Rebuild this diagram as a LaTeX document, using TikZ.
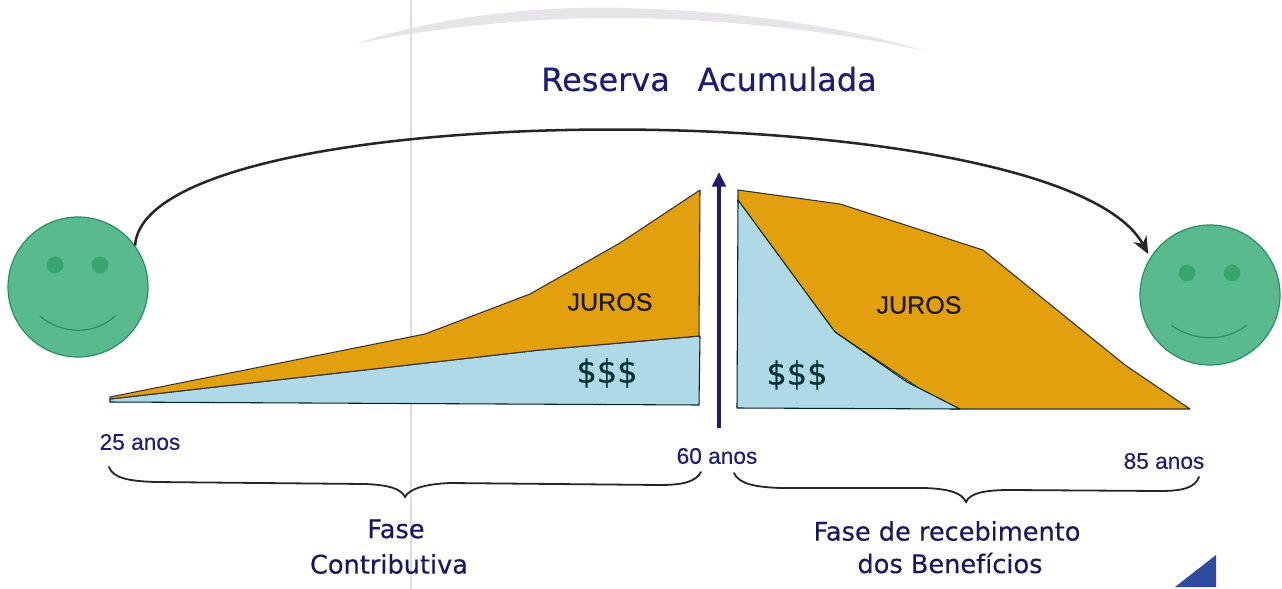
\documentclass[tikz,border=0pt]{standalone}
\usepackage{fontspec}
\setmainfont{Liberation Sans}[FakeBold=0.25]
\newfontfamily\verd{DejaVu Sans}[FakeBold=0.35]
\usetikzlibrary{arrows.meta}
\definecolor{navy}{HTML}{1C1C72}
\definecolor{face}{HTML}{58BA8E}
\definecolor{faceedge}{HTML}{2C8F60}
\definecolor{eyec}{HTML}{38A46E}
\definecolor{gold}{HTML}{E2A00F}
\definecolor{sky}{HTML}{AFD9E6}
\definecolor{paleline}{HTML}{D5DBF2}
\definecolor{swoosh}{HTML}{E6E4E8}
\definecolor{corner}{HTML}{2F4BA0}
\tikzset{
  x=0.75pt,y=-0.75pt,
  smile/.style={circle,draw=faceedge,fill=face,line width=0.9pt,minimum size=105pt,inner sep=0pt},
  eye/.style={circle,fill=eyec,minimum size=12.5pt,inner sep=0pt},
  mouth/.style={draw=faceedge,line width=0.9pt},
  juros/.style={draw=black!80,fill=gold,line width=0.8pt,line join=round},
  money/.style={draw=black!70!teal,fill=sky,line width=0.8pt,line join=round},
  curly/.style={draw=black!85,line width=1.35pt,line cap=round},
  agelabel/.style={text=navy,font=\fontsize{17}{18}\selectfont,inner sep=0pt},
  phase/.style={text=navy!85!black,font=\verd\fontsize{19.2}{21}\selectfont,inner sep=0pt},
  jlabel/.style={text=black!90,font=\fontsize{18.8}{20}\selectfont,inner sep=0pt},
  dlabel/.style={text=black!60!teal,font=\verd\fontsize{24}{25}\selectfont,inner sep=0pt},
}
\begin{document}
\begin{tikzpicture}
\useasboundingbox (0,0) rectangle (1282,589);
\fill[white] (0,0) rectangle (1282,589);
\fill[swoosh] (355,44) .. controls (450,12) and (560,6) .. (620,8) .. controls (730,10) and (840,25) .. (925,51) .. controls (820,28) and (700,17) .. (600,18) .. controls (520,19) and (430,28) .. (355,44) -- cycle;
\draw[paleline,line width=0.9pt] (411,0) -- (411,589);
\fill[corner] (1175,587) -- (1216,555) -- (1216,587) -- cycle;

\node[text=navy,font=\verd\fontsize{24}{26}\selectfont,inner sep=0pt] (title) at (709,79) {Reserva\hspace{0.55em} Acumulada};

% left chart
\draw[money] (110,399) -- (540,350) -- (700,336) -- (699,405) -- (110,402) -- cycle;
\draw[juros] (110,397) -- (425,334) -- (530,294) -- (620,243) -- (700,190) -- (699,336) -- (540,350) -- (110,399) -- cycle;
% right chart
\draw[juros] (738,190) -- (840,204) -- (983,250) -- (1125,365) -- (1190,409) -- (950,409) -- (835,332) -- (738,202) -- cycle;
\draw[money] (738,200) -- (835,332) -- (907,382) -- (960,409) -- (737,408) -- cycle;

\node[jlabel] (j1) at (610,302) {JUROS};
\node[jlabel] (j2) at (919,305) {JUROS};
\node[dlabel] (d1) at (607,373) {\$\$\$};
\node[dlabel] (d2) at (797,375) {\$\$\$};

% centre arrow
\coordinate (abase) at (719,428);
\coordinate (atip) at (719,172);
\draw[navy,line width=3pt,-{Triangle[length=11pt,width=10pt]}] (abase) -- (atip);

% faces
\node[smile] (left) at (78,287) {};
\node[eye] at (55,265) {};
\node[eye] at (100,265) {};
\draw[mouth] (40,316) .. controls (62,335) and (95,335) .. (115,316);
\node[smile] (right) at (1210,295) {};
\node[eye] at (1187,273) {};
\node[eye] at (1232,273) {};
\draw[mouth] (1171,325) .. controls (1195,342) and (1225,342) .. (1247,325);

% big arc
\draw[black!85,line width=1.9pt,shorten >=3pt,-{Stealth[length=13pt,width=11pt]}] (left.36) .. controls (145,91) and (1060,91) .. (right.148);

\node[agelabel] (a25) at (140,442) {25 anos};
\node[agelabel] (a60) at (717,456) {60 anos};
\node[agelabel] (a85) at (1164,461) {85 anos};

% braces
\draw[curly] (109,467) .. controls (113,478) and (128,481) .. (155,482) -- (365,484) .. controls (390,485) and (401,489) .. (405,497) .. controls (409,489) and (425,484) .. (450,483) -- (660,485) .. controls (685,485) and (696,481) .. (701,472);
\draw[curly] (734,473) .. controls (739,484) and (755,487) .. (780,488) -- (925,488) .. controls (950,489) and (962,493) .. (966,502) .. controls (970,493) and (985,490) .. (1010,490) -- (1160,491) .. controls (1185,491) and (1195,487) .. (1199,477);

\node[phase] (f1a) at (396,529) {Fase};
\node[phase] (f1b) at (389,564) {Contributiva};
\node[phase] (f2a) at (947,531) {Fase de recebimento};
\node[phase] (f2b) at (950,563) {dos Benefícios};
\end{tikzpicture}
\end{document}
